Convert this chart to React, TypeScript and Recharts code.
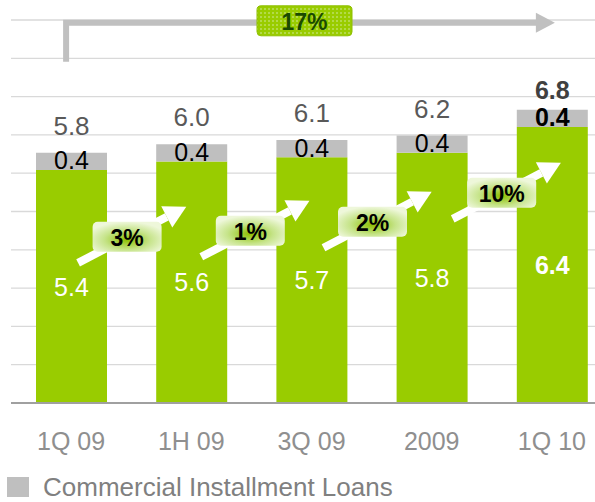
import React from "react";
import {
  BarChart,
  Bar,
  XAxis,
  YAxis,
  CartesianGrid,
  LabelList,
  ReferenceLine,
} from "recharts";

const CATEGORIES = ["1Q 09", "1H 09", "3Q 09", "2009", "1Q 10"];
const CORE_LOANS = [5.4, 5.6, 5.7, 5.8, 6.4];
const COMMERCIAL_INSTALLMENT = [0.4, 0.4, 0.4, 0.4, 0.4];
const TOTALS = [5.8, 6.0, 6.1, 6.2, 6.8];
const GROWTH = ["3%", "1%", "2%", "10%"];
const TOTAL_GROWTH = "17%";
const GRID_TICKS = [0, 0.888, 1.776, 2.664, 3.552, 4.44, 5.328, 6.216, 7.104, 7.992, 8.88];

// where the hand-placed growth arrows sit (tail height in axis units, sideways nudge in px)
const ARROW_TAIL = [3.25, 3.39, 3.6, 4.27];
const ARROW_SHIFT = [7, 10, 12, 21];

const FONT = "'Liberation Sans', Arial, sans-serif";
const GREEN = "#99cc00";
const GRAY = "#bfbfbf";

const data = CATEGORIES.map((name, i) => ({
  name,
  core: CORE_LOANS[i],
  commercial: COMMERCIAL_INSTALLMENT[i],
  total: TOTALS[i],
}));

const last = CATEGORIES.length - 1;

function CoreLabel(props: any) {
  const { x, y, width, height, value, index } = props;
  return (
    <text
      x={x + width / 2}
      y={y + height / 2}
      textAnchor="middle"
      dominantBaseline="central"
      fill="#ffffff"
      fontSize={25}
      fontWeight={index === last ? "bold" : "normal"}
      fontFamily={FONT}
    >
      {Number(value).toFixed(1)}
    </text>
  );
}

function CommercialLabel(props: any) {
  const { x, y, width, height, value, index } = props;
  return (
    <text
      x={x + width / 2}
      y={y + height / 2 - 1}
      textAnchor="middle"
      dominantBaseline="central"
      fill="#000000"
      fontSize={25}
      fontWeight={index === last ? "bold" : "normal"}
      fontFamily={FONT}
    >
      {Number(value).toFixed(1)}
    </text>
  );
}

function TotalLabel(props: any) {
  const { x, y, width, value, index } = props;
  const bold = index === last;
  return (
    <text
      x={x + width / 2}
      y={y - (bold ? 20 : 27)}
      textAnchor="middle"
      dominantBaseline="central"
      fill={bold ? "#404040" : "#595959"}
      fontSize={bold ? 25 : 26}
      fontWeight={bold ? "bold" : "normal"}
      fontFamily={FONT}
    >
      {Number(value).toFixed(1)}
    </text>
  );
}

function CategoryTick(props: any) {
  const { x, y, payload } = props;
  return (
    <text
      x={x}
      y={y + 36}
      textAnchor="middle"
      dominantBaseline="central"
      fill="#8f8f8f"
      fontSize={25}
      fontFamily={FONT}
    >
      {payload.value}
    </text>
  );
}

function makeGrowthArrow(label: string, shift: number) {
  return (p: any) => {
    const tx = p.x1 + shift;
    const ty = p.y1;
    const hx = p.x2 + shift - 12;
    const hy = p.y2;
    const ang = Math.atan2(hy - ty, hx - tx);
    const headLen = 22;
    const headW = 12;
    const bx = hx - headLen * Math.cos(ang);
    const by = hy - headLen * Math.sin(ang);
    const nx = -Math.sin(ang);
    const ny = Math.cos(ang);
    const cx = tx + 49;
    const cy = ty - 26;
    return (
      <g>
        <line x1={tx} y1={ty} x2={bx} y2={by} stroke="#ffffff" strokeWidth={8} />
        <polygon
          points={`${hx},${hy} ${bx + nx * headW},${by + ny * headW} ${bx - nx * headW},${by - ny * headW}`}
          fill="#ffffff"
        />
        <rect
          x={cx - 34.5}
          y={cy - 15}
          width={69}
          height={30}
          rx={5}
          fill="url(#growthFill)"
        />
        <text
          x={cx}
          y={cy + 1}
          textAnchor="middle"
          dominantBaseline="central"
          fill="#000000"
          fontSize={23}
          fontWeight="bold"
          fontFamily={FONT}
        >
          {label}
        </text>
      </g>
    );
  };
}

function TotalArrow(p: any) {
  const vx = p.x1 - 5;
  const ly = p.y2;
  const tip = p.x2 + 3;
  const bx = (p.x1 + p.x2) / 2 - 7;
  return (
    <g>
      <path
        d={`M${vx},${p.y1} L${vx},${ly} L${tip - 18},${ly}`}
        fill="none"
        stroke="#c0c0c0"
        strokeWidth={6}
      />
      <polygon points={`${tip},${ly} ${tip - 19},${ly - 10} ${tip - 19},${ly + 10}`} fill="#c0c0c0" />
      <rect x={bx - 47.5} y={ly - 17} width={95} height={30} rx={4} fill="url(#totalFill)" stroke="#8fbf00" />
      <text
        x={bx}
        y={ly - 1}
        textAnchor="middle"
        dominantBaseline="central"
        fill="#1a4a00"
        fontSize={23}
        fontWeight="bold"
        fontFamily={FONT}
      >
        {TOTAL_GROWTH}
      </text>
    </g>
  );
}

export default function App() {
  return (
    <div
      style={{
        position: "absolute",
        left: 0,
        top: 0,
        width: 595,
        height: 502,
        overflow: "hidden",
        background: "#fff",
      }}
    >
      <BarChart
        width={612}
        height={502}
        data={data}
        margin={{ top: 20, right: 0, bottom: 0, left: 11 }}
      >
        <defs>
          <radialGradient id="growthFill" cx="50%" cy="60%" r="60%">
            <stop offset="0%" stopColor="#8cc000" />
            <stop offset="55%" stopColor="#c6e48a" />
            <stop offset="100%" stopColor="#eef7da" />
          </radialGradient>
          <pattern id="totalFill" width="4" height="4" patternUnits="userSpaceOnUse">
            <rect width="4" height="4" fill="#99cc00" />
            <rect width="2" height="2" fill="#b3da4a" />
          </pattern>
        </defs>
        <CartesianGrid horizontal vertical={false} stroke="#d9d9d9" strokeWidth={1.3} />
        <XAxis
          dataKey="name"
          height={99}
          tickLine={false}
          tickSize={0}
          axisLine={{ stroke: "#a0a0a0", strokeWidth: 2 }}
          tick={<CategoryTick />}
          interval={0}
        />
        <YAxis hide domain={[0, 8.88]} ticks={GRID_TICKS} />
        <Bar dataKey="core" stackId="a" fill={GREEN} barSize={71} isAnimationActive={false}>
          <LabelList dataKey="core" content={<CoreLabel />} />
        </Bar>
        <Bar dataKey="commercial" stackId="a" fill={GRAY} barSize={71} isAnimationActive={false}>
          <LabelList dataKey="commercial" content={<CommercialLabel />} />
          <LabelList dataKey="total" content={<TotalLabel />} />
        </Bar>
        {GROWTH.map((g, i) => (
          <ReferenceLine
            key={g}
            segment={[
              { x: CATEGORIES[i], y: ARROW_TAIL[i] },
              { x: CATEGORIES[i + 1], y: ARROW_TAIL[i] + 1.3 },
            ]}
            shape={makeGrowthArrow(g, ARROW_SHIFT[i])}
          />
        ))}
        <ReferenceLine
          segment={[
            { x: CATEGORIES[0], y: 7.91 },
            { x: CATEGORIES[last], y: 8.815 },
          ]}
          shape={TotalArrow}
        />
      </BarChart>
      <div
        style={{
          position: "absolute",
          left: 7,
          top: 472,
          height: 30,
          display: "flex",
          alignItems: "center",
          fontFamily: FONT,
          fontSize: 26,
          color: "#808080",
          whiteSpace: "nowrap",
        }}
      >
        <span style={{ display: "inline-block", width: 22, height: 20, background: GRAY, marginRight: 14 }} />
        Commercial Installment Loans
      </div>
    </div>
  );
}
